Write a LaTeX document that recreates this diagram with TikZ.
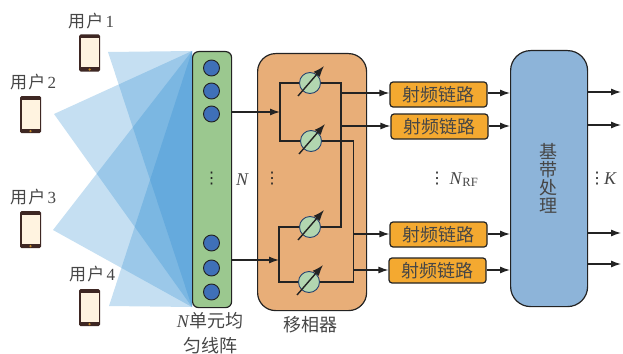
\documentclass[tikz,border=0pt]{standalone}
\usepackage{fontspec}
\setmainfont{Liberation Serif}
\newfontfamily\cjk{Noto Sans CJK SC}
\newfontfamily\sym{DejaVu Sans}
\usetikzlibrary{positioning,calc,arrows.meta}
\definecolor{BeamBlue}{RGB}{40,137,207}
\definecolor{ArrayGreen}{RGB}{155,200,143}
\definecolor{ElemBlue}{RGB}{63,112,184}
\definecolor{ShifterTan}{RGB}{232,174,120}
\definecolor{ShiftGreen}{RGB}{178,214,176}
\definecolor{ChainOrange}{RGB}{244,169,48}
\definecolor{BaseBlue}{RGB}{141,180,217}
\definecolor{PhoneDark}{RGB}{62,39,35}
\definecolor{PhoneCream}{RGB}{255,243,224}
\definecolor{LineDark}{RGB}{35,35,35}
\definecolor{TextGray}{RGB}{70,70,70}

\begin{document}
\begin{tikzpicture}[
    x=1pt, y=-1pt,
    font=\fontsize{18}{18}\selectfont\cjk,
    >={Latex[length=10pt,width=7pt]},
    beam/.style={fill=BeamBlue, fill opacity=0.27},
    panel/.style={draw=LineDark, line width=1.2pt, anchor=north west, inner sep=0pt},
    elem/.style={circle, draw=LineDark, line width=0.9pt, fill=ElemBlue, minimum size=16pt, inner sep=0pt},
    shifter/.style={circle, draw=ElemBlue!60!black, line width=0.9pt, fill=ShiftGreen, minimum size=21pt, inner sep=0pt},
    chain/.style={draw=LineDark, line width=1.2pt, rounded corners=3pt, fill=ChainOrange, minimum width=97pt, minimum height=25pt, inner sep=0pt, text=TextGray},
    phone/.style={fill=PhoneDark, rounded corners=1.5pt, minimum width=21pt, minimum height=37pt, inner sep=0pt},
    screen/.style={fill=PhoneCream, minimum width=18pt, minimum height=29pt, inner sep=0pt},
    label/.style={text=TextGray, inner sep=0pt},
    vdotmark/.style={text=LineDark, inner sep=0pt, font=\fontsize{16}{16}\selectfont\sym},
    wire/.style={draw=LineDark, line width=1.2pt},
    arrow/.style={->, draw=LineDark, line width=1.2pt}
]
\useasboundingbox (0,0) rectangle (623,353);

% beams
\coordinate (apexT) at (192,51);
\coordinate (apexB) at (192,307);
\foreach \px/\py in {108/52,54/114,53/230,109/306}
    \fill[beam] (\px,\py) -- (apexT) -- (apexB) -- cycle;

% phones
\foreach \n/\x/\y/\lx/\ly in {1/89.5/53/91/21,2/30.5/114.5/33/82,3/30.5/229.5/33/197,4/89.5/307.5/92/274} {
    \node[phone] (phone\n) at (\x,\y) {};
    \node[screen] (screen\n) at (\x,\y-0.5) {};
    \node[circle, fill=ChainOrange!80!black, minimum size=2.5pt, inner sep=0pt] (btn\n) at (\x,\y+16.5) {};
    \node[label] (user\n) at (\lx,\ly) {\fontsize{17}{17}\selectfont 用\hspace{1.5pt}户{\rmfamily\hspace{2pt}\n}};
}

% array
\node[panel, rounded corners=6pt, fill=ArrayGreen, minimum width=39pt, minimum height=256pt] (array) at (192,51) {};
\foreach \n/\y in {a/68,b/91,c/114,d/243,e/268,f/292}
    \node[elem] (elem\n) at (211.5,\y) {};
\node[vdotmark] (dotsA) at (211.5,179) {⋮};
\node[label] (arrayname) at (210,335) {\begin{tabular}{@{}c@{}}{\rmfamily\itshape N}单元均\\[4pt]匀线阵\end{tabular}};
\node[label] (Nlab) at (242,180) {\rmfamily\itshape N};

% shifters
\node[panel, rounded corners=18pt, fill=ShifterTan, minimum width=109pt, minimum height=257pt] (shiftbox) at (257,53) {};
\node[vdotmark] (dotsB) at (272,179) {⋮};
\node[label] (shiftname) at (310,325) {移相器};
\node[shifter] (ps1) at (310,83) {};
\node[shifter] (ps2) at (311,141) {};
\node[shifter] (ps3) at (310,227) {};
\node[shifter] (ps4) at (309,282) {};
\coordinate (splitT) at (280,112);
\coordinate (splitB) at (279,260);
\coordinate (busA) at (341,83);
\coordinate (busB) at (353.5,141);

% rf chains
\node[chain] (rf1) at (438.5,94.5) {射频链路};
\node[chain] (rf2) at (439.5,126.5) {射频链路};
\node[chain] (rf3) at (438.5,234.5) {射频链路};
\node[chain] (rf4) at (437.5,270.5) {射频链路};
\node[vdotmark] (dotsC) at (437,179) {⋮};
\node[label] (Nrf) at (464,179.5) {\rmfamily\textit{N}\textsubscript{RF}};

% baseband
\node[panel, rounded corners=20pt, fill=BaseBlue, minimum width=77pt, minimum height=256pt] (base) at (510,50) {};
\node[label, align=center] (basename) at (548,178.5) {基\\带\\处\\理};
\node[vdotmark] (dotsD) at (597,179) {⋮};
\node[label] (Klab) at (610,179) {\rmfamily\itshape K};

% wiring
\draw[wire] (ps1.west) -| (splitT) |- (ps2.west);
\draw[wire] (ps3.west) -| (splitB) |- (ps4.west);
\draw[wire] (ps1.east) -- (busA) |- (ps3.east);
\draw[wire] (ps2.east) -- (busB) |- (ps4.east);
\draw[arrow] (array.east |- splitT) -- (splitT);
\draw[arrow] (array.east |- splitB) -- (splitB);
\foreach \n/\bus/\y in {1/busA/93,2/busA/126,3/busB/234,4/busB/270} {
    \coordinate (tap\n) at (0,\y);
    \draw[arrow] (\bus |- tap\n) -- (rf\n.west |- tap\n);
    \draw[arrow] (rf\n.east |- tap\n) -- (base.west |- tap\n);
}
\foreach \y in {92,125,233,264} {
    \coordinate (out\y) at (621,\y);
    \draw[arrow] (base.east |- out\y) -- (out\y);
}
\foreach \n in {1,2,3,4}
    \draw[-{Latex[length=11pt,width=8pt]}, draw=LineDark, line width=1.4pt] ($(ps\n)+(-12,13)$) -- ($(ps\n)+(14,-17)$);
\end{tikzpicture}
\end{document}
